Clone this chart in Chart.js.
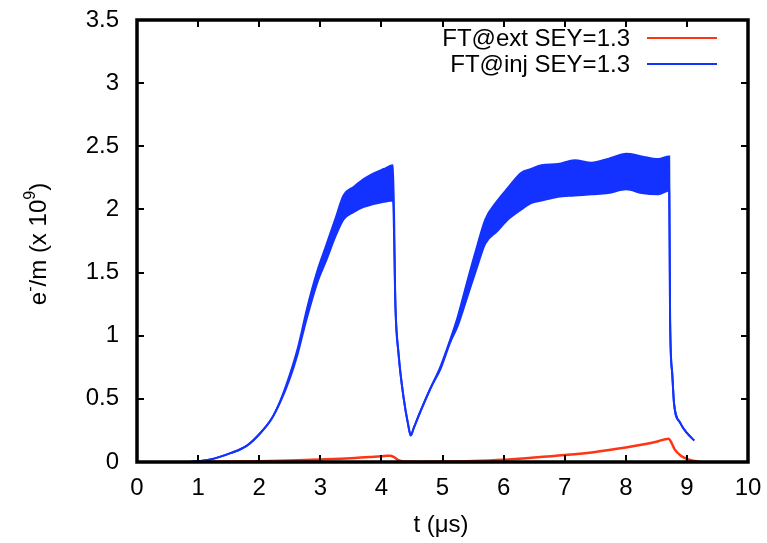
<!DOCTYPE html>
<html>
<head>
<meta charset="utf-8">
<script src="https://cdn.jsdelivr.net/npm/chart.js@4.4.0/dist/chart.umd.min.js"></script>
<style>
  html, body { margin: 0; padding: 0; background: #fff; }
  #wrap { width: 767px; height: 543px; position: relative; }
</style>
</head>
<body>
<div id="wrap"><canvas id="chart"></canvas></div>
<script>
// FT@ext SEY=1.3 (red)
const tExt = [0.9, 1.5, 2.0, 2.5, 3.0, 3.5, 3.8, 4.0, 4.1, 4.15, 4.2, 4.3, 4.4, 4.6, 5.0, 5.5, 6.0, 6.5, 7.0, 7.5, 8.0, 8.3, 8.5, 8.7, 8.75, 8.8, 8.9, 9.0, 9.1, 9.2];
const ftExt = [0, 0.003, 0.006, 0.012, 0.02, 0.03, 0.04, 0.045, 0.05, 0.05, 0.04, 0.01, 0.003, 0.002, 0.003, 0.008, 0.018, 0.035, 0.055, 0.08, 0.115, 0.14, 0.16, 0.185, 0.15, 0.1, 0.05, 0.025, 0.01, 0.005];

// FT@inj SEY=1.3 (blue) - upper / lower envelope of the oscillating band
const tInj = [0.85, 1.2, 1.53, 1.8, 2.02, 2.2, 2.35, 2.5, 2.62, 2.7, 2.78, 2.95, 3.1, 3.25, 3.38, 3.55, 3.71, 3.85, 4.04, 4.19, 4.23, 4.28, 4.36, 4.44, 4.48, 4.53, 4.63, 4.8, 4.97, 5.12, 5.25, 5.4, 5.55, 5.7, 5.9, 6.07, 6.29, 6.45, 6.62, 6.89, 7.16, 7.44, 7.71, 8.01, 8.26, 8.53, 8.71, 8.725, 8.76, 8.79, 8.89, 9.0, 9.12];
const ftInjUpper = [0, 0.02, 0.07, 0.13, 0.23, 0.34, 0.49, 0.69, 0.88, 1.04, 1.21, 1.51, 1.72, 1.93, 2.11, 2.18, 2.24, 2.28, 2.32, 2.35, 1.23, 0.86, 0.52, 0.29, 0.21, 0.27, 0.39, 0.58, 0.76, 0.96, 1.15, 1.42, 1.68, 1.92, 2.07, 2.17, 2.29, 2.32, 2.35, 2.36, 2.39, 2.37, 2.40, 2.44, 2.42, 2.40, 2.42, 1.12, 0.70, 0.46, 0.31, 0.23, 0.17];
const ftInjLower = [0, 0.02, 0.07, 0.13, 0.23, 0.34, 0.48, 0.66, 0.84, 0.99, 1.14, 1.42, 1.6, 1.79, 1.92, 1.98, 2.02, 2.04, 2.06, 2.07, 1.23, 0.86, 0.52, 0.29, 0.21, 0.27, 0.39, 0.58, 0.74, 0.94, 1.08, 1.3, 1.52, 1.73, 1.83, 1.92, 2.0, 2.05, 2.07, 2.1, 2.11, 2.12, 2.13, 2.16, 2.13, 2.12, 2.15, 1.12, 0.70, 0.46, 0.31, 0.23, 0.17];

const xTickValues = [0, 1, 2, 3, 4, 5, 6, 7, 8, 9, 10];
const yTickValues = [0, 0.5, 1, 1.5, 2, 2.5, 3, 3.5];

const RED = 'rgb(255, 52, 18)';
const BLUE = 'rgb(20, 50, 255)';
const FONT = "'Liberation Sans', Arial, Helvetica, sans-serif";

function pts(xs, ys) {
    return xs.map((x, i) => ({ x: x, y: ys[i] }));
}

// gnuplot style frame, inward ticks, axis titles and legend
const gnuplotFrame = {
    id: 'gnuplotFrame',
    afterDraw(chart) {
        const ctx = chart.ctx;
        const a = chart.chartArea;
        const xs = chart.scales.x, ys = chart.scales.y;
        ctx.save();
        ctx.strokeStyle = '#000';

        // ticks
        ctx.lineWidth = 2;
        const tl = 7;
        ctx.beginPath();
        xTickValues.forEach(v => {
            const px = Math.round(xs.getPixelForValue(v));
            if (v === 0 || v === 10) return;
            ctx.moveTo(px, a.bottom); ctx.lineTo(px, a.bottom - tl);
            ctx.moveTo(px, a.top); ctx.lineTo(px, a.top + tl);
        });
        yTickValues.forEach(v => {
            const py = Math.round(ys.getPixelForValue(v));
            if (v === 0 || v === 3.5) return;
            ctx.moveTo(a.left, py); ctx.lineTo(a.left + tl, py);
            ctx.moveTo(a.right, py); ctx.lineTo(a.right - tl, py);
        });
        ctx.stroke();

        // frame
        ctx.lineWidth = 3.5;
        ctx.strokeRect(a.left, a.top, a.right - a.left, a.bottom - a.top);

        // x title
        ctx.fillStyle = '#000';
        ctx.font = '24px ' + FONT;
        ctx.textAlign = 'center';
        ctx.textBaseline = 'middle';
        ctx.fillText('t (\u03bcs)', 441, 525);

        // y title with superscripts
        ctx.save();
        ctx.translate(46, 244);
        ctx.rotate(-Math.PI / 2);
        ctx.textBaseline = 'alphabetic';
        ctx.textAlign = 'left';
        const big = '24px ' + FONT, small = '16px ' + FONT;
        const parts = [['e', big, 0], ['-', small, -11], ['/m (x 10', big, 0], ['9', small, -11], [')', big, 0]];
        let total = 0;
        parts.forEach(p => { ctx.font = p[1]; total += ctx.measureText(p[0]).width; });
        let cx = -total / 2;
        parts.forEach(p => {
            ctx.font = p[1];
            ctx.fillText(p[0], cx, p[2]);
            cx += ctx.measureText(p[0]).width;
        });
        ctx.restore();

        // legend
        ctx.font = '24px ' + FONT;
        ctx.textAlign = 'right';
        ctx.textBaseline = 'middle';
        const rows = [
            { label: chart.data.datasets[0].label, color: RED, y: 38 },
            { label: chart.data.datasets[1].label, color: BLUE, y: 64 }
        ];
        rows.forEach(r => {
            ctx.fillStyle = '#000';
            ctx.fillText(r.label, 630, r.y + 1);
            ctx.strokeStyle = r.color;
            ctx.lineWidth = 2;
            ctx.beginPath();
            ctx.moveTo(647, r.y); ctx.lineTo(717, r.y);
            ctx.stroke();
        });
        ctx.restore();
    }
};

document.addEventListener('DOMContentLoaded', function() {
    const ctx = document.getElementById('chart').getContext('2d');

    new Chart(ctx, {
        type: 'line',
        data: {
            datasets: [{
                label: 'FT@ext SEY=1.3',
                data: pts(tExt, ftExt),
                borderColor: RED,
                borderWidth: 2.5,
                pointRadius: 0,
                fill: false,
                cubicInterpolationMode: 'monotone',
                order: 3
            }, {
                label: 'FT@inj SEY=1.3',
                data: pts(tInj, ftInjUpper),
                borderColor: BLUE,
                backgroundColor: BLUE,
                borderWidth: 2,
                pointRadius: 0,
                fill: '+1',
                cubicInterpolationMode: 'monotone',
                order: 1
            }, {
                label: 'FT@inj lower',
                data: pts(tInj, ftInjLower),
                borderColor: BLUE,
                borderWidth: 2,
                pointRadius: 0,
                fill: false,
                cubicInterpolationMode: 'monotone',
                order: 2
            }]
        },
        options: {
            responsive: true,
            maintainAspectRatio: false,
            animation: false,
            layout: { padding: { top: 20, right: 19, left: 0, bottom: 0 } },
            plugins: {
                legend: { display: false },
                tooltip: { enabled: false }
            },
            scales: {
                x: {
                    type: 'linear',
                    min: 0,
                    max: 10,
                    afterFit: s => { s.height = 81; s.paddingLeft = 0; s.paddingRight = 0; },
                    afterBuildTicks: s => { s.ticks = xTickValues.map(v => ({ value: v })); },
                    grid: { display: false, drawTicks: false },
                    border: { display: false },
                    ticks: {
                        padding: 12,
                        color: '#000',
                        maxRotation: 0,
                        font: { family: FONT, size: 24 },
                        callback: v => String(v)
                    }
                },
                y: {
                    type: 'linear',
                    min: 0,
                    max: 3.5,
                    afterFit: s => { s.width = 137; s.paddingTop = 0; s.paddingBottom = 0; },
                    afterBuildTicks: s => { s.ticks = yTickValues.map(v => ({ value: v })); },
                    grid: { display: false, drawTicks: false },
                    border: { display: false },
                    ticks: {
                        padding: 18,
                        color: '#000',
                        font: { family: FONT, size: 24 },
                        callback: v => String(v)
                    }
                }
            }
        },
        plugins: [gnuplotFrame]
    });
});
</script>
</body>
</html>
